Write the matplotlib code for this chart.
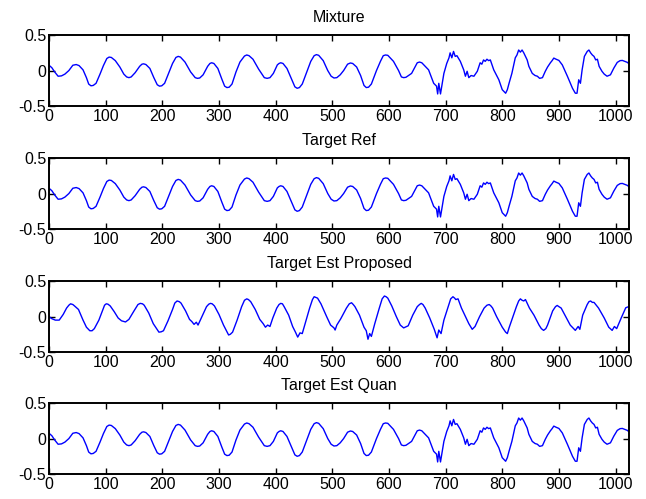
import numpy as np
import matplotlib
matplotlib.use('Agg')
import matplotlib.pyplot as plt

plt.rcParams['font.family'] = ['Liberation Sans', 'DejaVu Sans']

# サンプル番号と振幅
mix_n = [0, 5, 10, 16, 22, 28, 35, 42, 48, 53, 60, 66, 70, 74, 78, 83, 90, 96, 102,
         106, 110, 117, 125, 132, 137, 141, 145, 152, 160, 164, 167, 171, 178, 185,
         191, 195, 199, 204, 212, 218, 224, 228, 232, 240, 250, 258, 262, 266, 272,
         280, 284, 287, 291, 298, 305, 310, 314, 318, 323, 330, 337, 345, 349, 353,
         360, 370, 380, 385, 390, 396, 403, 406, 409, 413, 420, 428, 434, 438, 442,
         447, 455, 462, 468, 472, 476, 484, 492, 498, 503, 508, 514, 520, 527, 532,
         536, 543, 550, 556, 560, 564, 569, 578, 585, 590, 594, 598, 608, 617, 622,
         626, 630, 640, 650, 654, 658, 670, 679, 684, 686, 688, 691, 697, 702, 706,
         708, 711, 714, 717, 720, 723, 726, 732, 735, 738, 741, 745, 750, 756, 761,
         764, 767, 770, 773, 776, 779, 785, 794, 800, 806, 809, 812, 817, 823, 826,
         829, 832, 835, 838, 841, 844, 847, 853, 858, 862, 866, 871, 876, 880, 885,
         888, 891, 895, 900, 906, 915, 924, 929, 932, 935, 938, 941, 945, 950, 953,
         956, 959, 962, 965, 968, 971, 976, 980, 985, 991, 997, 1003, 1008, 1012,
         1016, 1021, 1023]
mix_v = [0.075, 0.04, -0.02, -0.08, -0.075, -0.05, 0.0, 0.075, 0.085, 0.07, 0.01,
         -0.1, -0.19, -0.215, -0.21, -0.18, -0.05, 0.07, 0.17, 0.19, 0.185, 0.14,
         0.05, -0.05, -0.09, -0.1, -0.09, -0.03, 0.06, 0.09, 0.095, 0.085, 0.03,
         -0.1, -0.2, -0.22, -0.215, -0.18, -0.02, 0.1, 0.185, 0.2, 0.19, 0.12, -0.02,
         -0.1, -0.11, -0.105, -0.06, 0.06, 0.1, 0.11, 0.1, 0.03, -0.12, -0.22, -0.24,
         -0.235, -0.19, -0.02, 0.12, 0.205, 0.22, 0.21, 0.16, 0.02, -0.1, -0.11, -0.1,
         -0.04, 0.08, 0.1, 0.11, 0.1, 0.03, -0.12, -0.23, -0.25, -0.24, -0.19, -0.02,
         0.13, 0.21, 0.225, 0.215, 0.14, 0.0, -0.08, -0.105, -0.1, -0.06, 0.0, 0.09,
         0.107, 0.1, 0.05, -0.07, -0.21, -0.24, -0.235, -0.19, 0.0, 0.13, 0.21, 0.22,
         0.215, 0.13, 0.0, -0.09, -0.1, -0.095, -0.04, 0.11, 0.12, 0.11, 0.01, -0.18,
         -0.22, -0.33, -0.18, -0.33, -0.04, 0.1, 0.18, 0.25, 0.18, 0.27, 0.2, 0.21,
         0.17, 0.13, 0.01, -0.08, -0.01, -0.1, -0.07, -0.08, -0.01, 0.11, 0.09, 0.15,
         0.13, 0.16, 0.14, 0.15, 0.01, -0.13, -0.27, -0.32, -0.27, -0.18, -0.04, 0.18,
         0.22, 0.29, 0.26, 0.29, 0.25, 0.2, 0.15, 0.06, -0.04, -0.07, -0.08, -0.11,
         -0.1, -0.01, 0.05, 0.11, 0.14, 0.176, 0.16, 0.143, 0.08, -0.08, -0.25,
         -0.32, -0.32, -0.13, -0.18, 0.01, 0.2, 0.27, 0.29, 0.25, 0.22, 0.2, 0.15,
         0.16, 0.06, -0.01, -0.05, -0.08, -0.06, 0.035, 0.115, 0.14, 0.143, 0.13,
         0.115, 0.1]

# ターゲット参照とQuan推定はほぼ同じ波形
ref_n, ref_v = mix_n, mix_v
quan_n, quan_v = mix_n, mix_v

prop_n = [0, 5, 11, 18, 25, 31, 35, 38, 42, 45, 52, 60, 66, 72, 76, 80, 88, 95, 98,
          101, 104, 108, 115, 122, 128, 135, 141, 150, 157, 161, 165, 168, 176, 184,
          194, 198, 202, 210, 218, 222, 226, 230, 233, 241, 248, 252, 256, 260, 263,
          270, 278, 282, 285, 288, 292, 300, 308, 317, 320, 324, 332, 340, 345, 349,
          352, 356, 364, 372, 378, 382, 386, 390, 395, 402, 406, 409, 412, 415, 423,
          430, 435, 439, 443, 447, 452, 460, 465, 468, 471, 474, 480, 490, 497, 503,
          505, 508, 515, 525, 530, 534, 537, 540, 548, 556, 560, 563, 566, 569, 575,
          583, 588, 592, 595, 598, 605, 613, 620, 626, 634, 642, 650, 654, 657, 660,
          664, 672, 680, 685, 688, 692, 697, 705, 709, 713, 716, 718, 722, 728, 735,
          741, 747, 752, 760, 768, 773, 777, 780, 783, 790, 800, 806, 809, 812, 818,
          825, 829, 832, 835, 838, 841, 848, 856, 865, 869, 873, 877, 880, 889, 894,
          897, 900, 904, 912, 920, 929, 934, 937, 942, 950, 953, 956, 959, 962, 970,
          980, 988, 994, 998, 1002, 1010, 1018, 1023]
prop_v = [0.0, -0.03, -0.05, -0.05, 0.03, 0.12, 0.16, 0.18, 0.17, 0.15, 0.1, -0.05,
          -0.15, -0.2, -0.2, -0.17, -0.05, 0.1, 0.16, 0.18, 0.175, 0.15, 0.07, -0.02,
          -0.06, -0.076, -0.04, 0.08, 0.17, 0.186, 0.18, 0.16, 0.05, -0.1, -0.22,
          -0.215, -0.2, -0.06, 0.1, 0.19, 0.22, 0.21, 0.19, 0.08, -0.04, -0.07, -0.11,
          -0.08, -0.12, 0.0, 0.14, 0.175, 0.186, 0.18, 0.15, 0.03, -0.12, -0.26,
          -0.25, -0.22, -0.05, 0.14, 0.23, 0.25, 0.24, 0.21, 0.1, -0.04, -0.1, -0.15,
          -0.12, -0.14, -0.02, 0.12, 0.17, 0.186, 0.18, 0.14, 0.02, -0.14, -0.22,
          -0.29, -0.23, -0.24, -0.1, 0.12, 0.24, 0.28, 0.27, 0.26, 0.18, 0.0, -0.12,
          -0.16, -0.19, -0.12, -0.03, 0.12, 0.18, 0.195, 0.17, 0.14, 0.02, -0.15,
          -0.2, -0.32, -0.24, -0.28, -0.1, 0.12, 0.25, 0.29, 0.28, 0.26, 0.15, 0.0,
          -0.12, -0.16, -0.13, 0.02, 0.14, 0.17, 0.186, 0.17, 0.12, -0.02, -0.18,
          -0.3, -0.19, -0.24, -0.05, 0.15, 0.25, 0.28, 0.26, 0.24, 0.25, 0.12, 0.0,
          -0.1, -0.18, -0.14, 0.0, 0.12, 0.16, 0.17, 0.15, 0.12, 0.0, -0.15, -0.22,
          -0.24, -0.16, -0.02, 0.14, 0.22, 0.25, 0.23, 0.22, 0.24, 0.12, 0.02, -0.12,
          -0.17, -0.195, -0.17, -0.12, 0.08, 0.14, 0.157, 0.14, 0.12, 0.0, -0.12,
          -0.195, -0.14, -0.18, 0.02, 0.17, 0.21, 0.22, 0.2, 0.2, 0.12, -0.02, -0.15,
          -0.195, -0.14, -0.17, -0.02, 0.124, 0.14]

titles = ['Mixture', 'Target Ref', 'Target Est Proposed', 'Target Est Quan']
series = [(mix_n, mix_v), (ref_n, ref_v), (prop_n, prop_v), (quan_n, quan_v)]

fig = plt.figure(figsize=(6.46, 4.99), dpi=100)
bottoms = [0.7876, 0.5411, 0.2946, 0.0501]  # 各サブプロットの下端
for k in range(4):
    ax = fig.add_axes([0.0759, bottoms[k], 0.898, 0.142])
    n, v = series[k]
    ax.plot(n, v, color='blue', linewidth=1.0)
    ax.set_xlim(0, 1024)
    ax.set_ylim(-0.5, 0.5)
    ax.set_xticks(np.arange(0, 1001, 100))
    ax.set_yticks([-0.5, 0, 0.5])
    ax.set_yticklabels(['-0.5', '0', '0.5'])
    ax.tick_params(direction='in', top=True, right=True, length=4,
                   width=1.0, labelsize=11.5, pad=2)
    for s in ax.spines.values():
        s.set_linewidth(1.4)
    ax.set_title(titles[k], fontsize=11.5, pad=9.5)

fig.savefig('out.png', dpi=100)
